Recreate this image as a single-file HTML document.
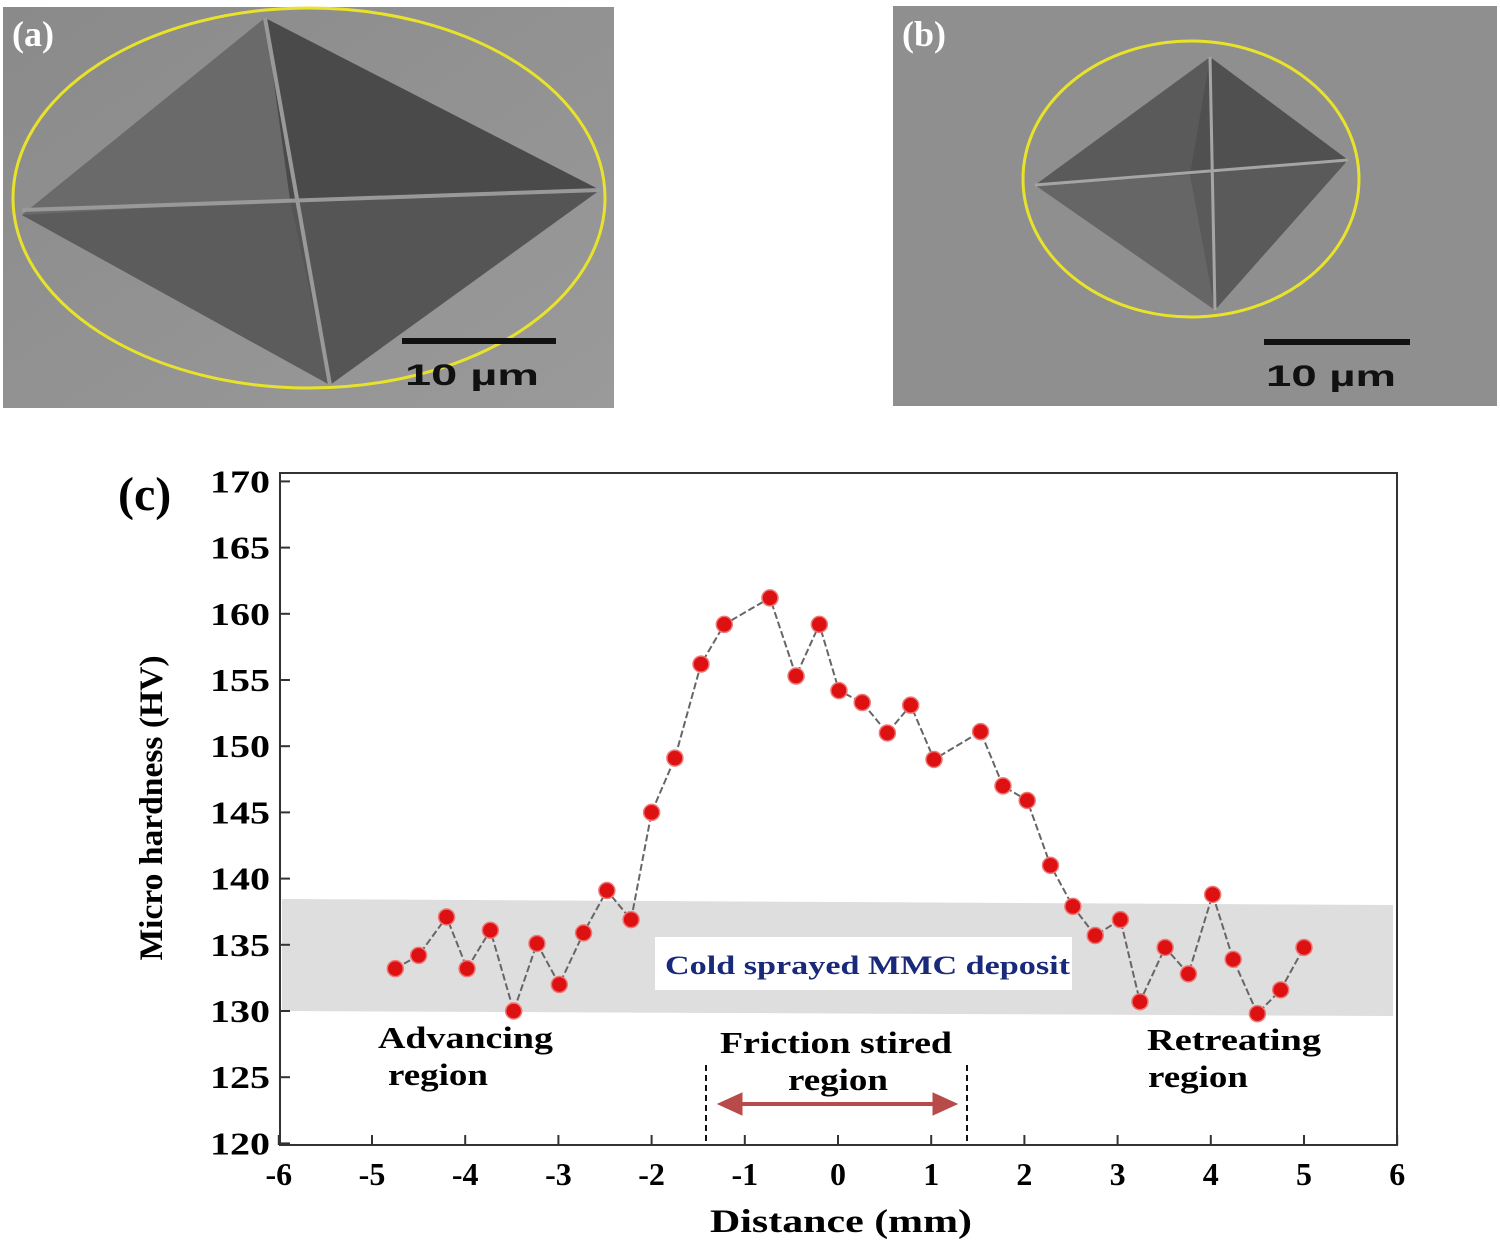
<!DOCTYPE html>
<html><head><meta charset="utf-8"><style>
body{margin:0;background:#fff;width:1500px;height:1244px;overflow:hidden;font-family:"Liberation Serif",serif}
svg{position:absolute;left:0;top:0}
</style></head><body>
<svg width="1500" height="1244">
<defs>
<linearGradient id="bg" x1="0" y1="0" x2="1" y2="1"><stop offset="0" stop-color="#8a8a8a"/><stop offset="1" stop-color="#9a9a9a"/></linearGradient>
</defs>
<g>
<rect x="3" y="7" width="611" height="401" fill="url(#bg)"/>
<polygon points="265,18 600,190 330,385 22,215" fill="#555"/>
<polygon points="265,18 600,190 290,200" fill="#4a4a4a"/>
<polygon points="22,215 290,200 330,385" fill="#5c5c5c"/>
<polygon points="265,18 290,200 22,215" fill="#6a6a6a"/>
<line x1="265" y1="18" x2="330" y2="385" stroke="#999" stroke-width="4"/>
<line x1="22" y1="210" x2="600" y2="190" stroke="#999" stroke-width="4"/>
<ellipse cx="309" cy="198" rx="296" ry="190" fill="none" stroke="#e8e32a" stroke-width="3"/>
<line x1="402" y1="341" x2="556" y2="341" stroke="#111" stroke-width="6"/>
<text x="405" y="385" font-family="Liberation Sans" font-weight="bold" font-size="30" fill="#111" textLength="134" lengthAdjust="spacingAndGlyphs">10 µm</text>
<text x="12" y="46" font-weight="bold" font-size="36" fill="#fff">(a)</text>
</g>
<g>
<rect x="893" y="6" width="604" height="400" fill="#8f8f8f"/>
<polygon points="1210,57 1348,160 1215,310 1035,185" fill="#5a5a5a"/>
<polygon points="1210,57 1348,160 1190,175" fill="#505050"/>
<polygon points="1035,185 1190,175 1215,310" fill="#666"/>
<line x1="1210" y1="57" x2="1215" y2="310" stroke="#a5a5a5" stroke-width="3"/>
<line x1="1035" y1="185" x2="1348" y2="160" stroke="#a5a5a5" stroke-width="3"/>
<ellipse cx="1191" cy="179" rx="168" ry="138" fill="none" stroke="#e8e32a" stroke-width="3"/>
<line x1="1264" y1="342" x2="1410" y2="342" stroke="#111" stroke-width="6"/>
<text x="1266" y="386" font-family="Liberation Sans" font-weight="bold" font-size="30" fill="#111" textLength="130" lengthAdjust="spacingAndGlyphs">10 µm</text>
<text x="902" y="46" font-weight="bold" font-size="36" fill="#fff">(b)</text>
</g>
<text x="118" y="510" font-weight="bold" font-size="48">(c)</text>
<g id="chart"></g>
</svg>
<script>
const xs=[-4.75,-4.5,-4.2,-3.98,-3.73,-3.48,-3.23,-2.99,-2.73,-2.48,-2.22,-2.0,-1.75,-1.47,-1.22,-0.73,-0.45,-0.2,0.01,0.26,0.53,0.78,1.03,1.53,1.77,2.03,2.28,2.52,2.76,3.03,3.24,3.51,3.76,4.02,4.24,4.5,4.75,5.0];
const hv=[133.2,134.2,137.1,133.2,136.1,130,135.1,132,135.9,139.1,136.9,145,149.1,156.2,159.2,161.2,155.3,159.2,154.2,153.3,151,153.1,149,151.1,147,145.9,141,137.9,135.7,136.9,130.7,134.8,132.8,138.8,133.9,129.8,131.6,134.8];
const xTicks=[-6,-5,-4,-3,-2,-1,0,1,2,3,4,5,6];
const yTicks=[120,125,130,135,140,145,150,155,160,165,170];
const X=v=>838+v*93.2, Y=v=>1011-(v-130)*13.24;
const NS="http://www.w3.org/2000/svg", g=document.getElementById('chart');
function mk(t,a,p){const e=document.createElementNS(NS,t);for(const k in a)e.setAttribute(k,a[k]);(p||g).appendChild(e);return e;}
let band=mk('polygon',{points:`282,899 1393,905 1393,1016 282,1011`,fill:'#dedede'});


let box=mk('rect',{x:655,y:937,width:417,height:53,fill:'#fff'});


let bt=mk('text',{x:665,y:974,'font-weight':'bold','font-size':26,fill:'#1a2a7a',textLength:405,lengthAdjust:'spacingAndGlyphs'});bt.textContent='Cold sprayed MMC deposit';


let fr=mk('rect',{x:280,y:473,width:1117,height:672,fill:'none',stroke:'#333','stroke-width':2});


yTicks.forEach(v=>{
 mk('line',{x1:280,x2:290,y1:Y(v),y2:Y(v),stroke:'#333','stroke-width':2});
 const t=mk('text',{x:210,y:Y(v)+11,'font-weight':'bold','font-size':32,textLength:60,lengthAdjust:'spacingAndGlyphs'});t.textContent=v;
 
 
});
xTicks.forEach(v=>{
 mk('line',{x1:X(v),x2:X(v),y1:1145,y2:1135,stroke:'#333','stroke-width':2});
 const t=mk('text',{x:X(v),y:1185,'text-anchor':'middle','font-weight':'bold','font-size':32});t.textContent=v;
 
 
});
let yt=mk('text',{transform:'translate(162,808) rotate(-90)','text-anchor':'middle','font-weight':'bold','font-size':33,textLength:305,lengthAdjust:'spacingAndGlyphs'});yt.textContent='Micro hardness (HV)';


let xt=mk('text',{x:710,y:1232,'font-weight':'bold','font-size':33,textLength:262,lengthAdjust:'spacingAndGlyphs'});xt.textContent='Distance (mm)';


[[378,1048,'Advancing',175],[388,1085,'region',100],[720,1053,'Friction stired',232],[788,1090,'region',100],[1147,1050,'Retreating',174],[1148,1087,'region',100]].forEach(a=>{
 const t=mk('text',{x:a[0],y:a[1],'font-weight':'bold','font-size':31,textLength:a[3],lengthAdjust:'spacingAndGlyphs'});t.textContent=a[2];
 
 
});
[706,967].forEach(x=>{const l=mk('line',{x1:x,x2:x,y1:1065,y2:1145,stroke:'#111','stroke-width':2,'stroke-dasharray':'6,4'});
 
 });
let ar=mk('g',{fill:'#b84a4a',stroke:'#b84a4a'});


mk('line',{x1:735,x2:940,y1:1104,y2:1104,'stroke-width':4},ar);
mk('polygon',{points:'718,1104 742,1093 742,1115'},ar);
mk('polygon',{points:'957,1104 933,1093 933,1115'},ar);
let ln=mk('polyline',{points:xs.map((x,i)=>X(x)+','+Y(hv[i])).join(' '),fill:'none',stroke:'#666','stroke-width':2,'stroke-dasharray':'7,3'});


xs.forEach((x,i)=>{const c=mk('circle',{cx:X(x),cy:Y(hv[i]),r:8,fill:'#d11',stroke:'#e77','stroke-width':1.5});
 
 });
</script>
</body></html>
